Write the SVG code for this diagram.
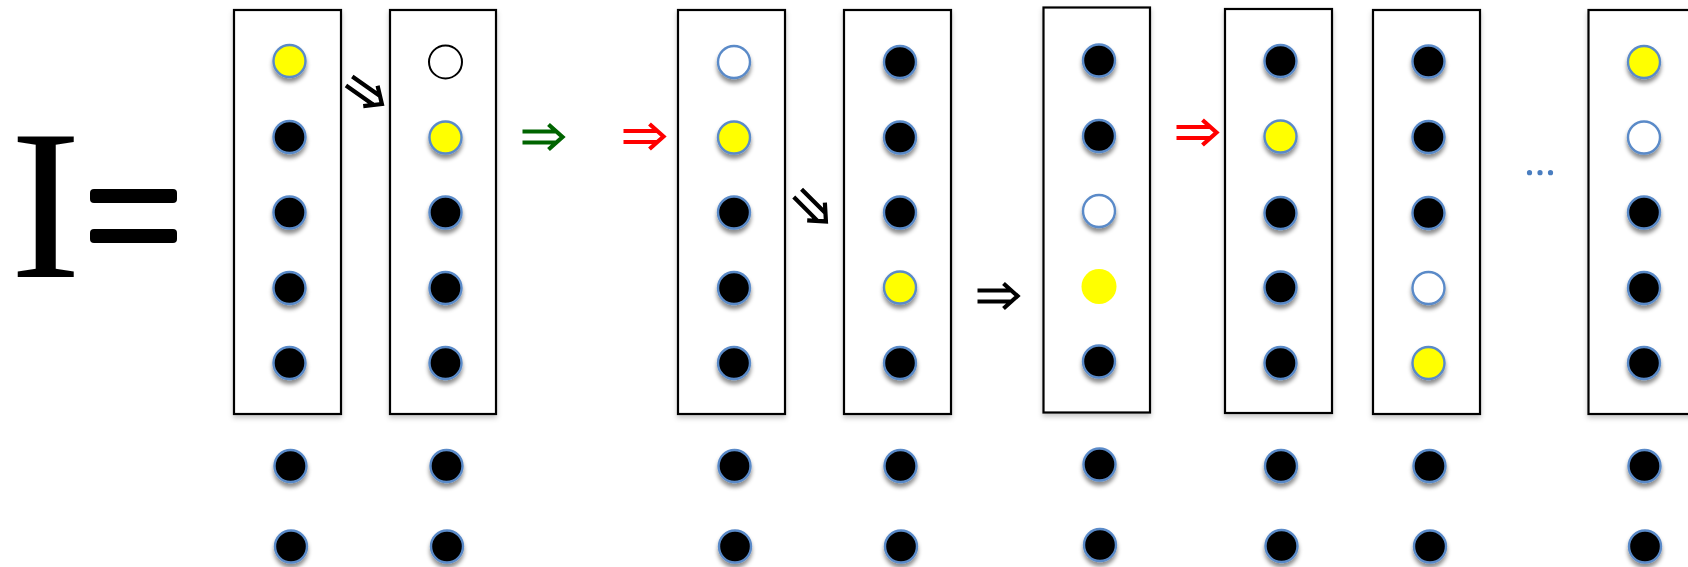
<svg xmlns="http://www.w3.org/2000/svg" xmlns:xlink="http://www.w3.org/1999/xlink" width="1688" height="567" viewBox="0 0 1688 567">
  <style>
    .box { fill: #ffffff; stroke: #000000; stroke-width: 2.2; filter: url(#boxShadow); }
    .dot { stroke: #5a8ac8; stroke-width: 2.4; filter: url(#dotShadow); }
    .on { fill: #ffff00; }
    .off { fill: #000000; }
    .hole { fill: #ffffff; }
    .ring { fill: #ffffff; stroke: #000000; stroke-width: 2; }
    .arrow { fill: none; stroke-width: 4.2; stroke-linecap: butt; stroke-linejoin: miter; }
    .title { font-family: "Liberation Serif", "Times New Roman", serif; fill: #000; }
  </style>
  <defs>
    <filter id="dotShadow" x="-50%" y="-50%" width="200%" height="220%">
      <feDropShadow dx="0" dy="4" stdDeviation="2.2" flood-color="#000" flood-opacity="0.45"/>
    </filter>
    <filter id="boxShadow" x="-10%" y="-5%" width="120%" height="110%">
      <feDropShadow dx="0" dy="3" stdDeviation="2.5" flood-color="#000" flood-opacity="0.22"/>
    </filter>
    <!-- double-line implication arrow, tail centred at origin, pointing +x -->
    <path id="dbl" d="M0,-5.5 H33 M0,5.5 H33 M26,-12.5 L40,0 L26,12.5"/>
  </defs>

  <!-- left-hand label -->
  <g id="label">
    <text class="title" x="10" y="277" font-size="214">I</text>
    <rect x="90" y="189" width="87" height="14" rx="4" fill="#000"/>
    <rect x="90" y="229" width="87" height="14" rx="4" fill="#000"/>
  </g>

  <!-- column 1 -->
  <g id="col1">
    <rect class="box" x="234" y="10" width="107" height="404"/>
    <circle class="dot on" cx="289.5" cy="61" r="16"/>
    <circle class="dot off" cx="289.5" cy="137" r="16"/>
    <circle class="dot off" cx="289.5" cy="212.5" r="16"/>
    <circle class="dot off" cx="289.5" cy="288" r="16"/>
    <circle class="dot off" cx="289.5" cy="363" r="16"/>
    <circle class="dot off" cx="290.5" cy="466" r="16"/>
    <circle class="dot off" cx="291" cy="546.5" r="16"/>
  </g>

  <!-- column 2 -->
  <g id="col2">
    <rect class="box" x="390" y="10" width="106" height="404"/>
    <circle class="ring" cx="445.5" cy="62" r="16.5"/>
    <circle class="dot on" cx="445.5" cy="137.5" r="16"/>
    <circle class="dot off" cx="445.5" cy="212.5" r="16"/>
    <circle class="dot off" cx="445.5" cy="288" r="16"/>
    <circle class="dot off" cx="445.5" cy="363" r="16"/>
    <circle class="dot off" cx="446.5" cy="466" r="16"/>
    <circle class="dot off" cx="447" cy="546.5" r="16"/>
  </g>

  <!-- column 3 -->
  <g id="col3">
    <rect class="box" x="678" y="10" width="107" height="404"/>
    <circle class="dot hole" cx="734" cy="62" r="16"/>
    <circle class="dot on" cx="734" cy="137.5" r="16"/>
    <circle class="dot off" cx="734" cy="212.5" r="16"/>
    <circle class="dot off" cx="734" cy="288" r="16"/>
    <circle class="dot off" cx="734" cy="363" r="16"/>
    <circle class="dot off" cx="734.5" cy="466" r="16"/>
    <circle class="dot off" cx="735" cy="546.5" r="16"/>
  </g>

  <!-- column 4 -->
  <g id="col4">
    <rect class="box" x="844" y="10" width="107" height="404"/>
    <circle class="dot off" cx="900" cy="62" r="16"/>
    <circle class="dot off" cx="900" cy="137.5" r="16"/>
    <circle class="dot off" cx="900" cy="212.5" r="16"/>
    <circle class="dot on" cx="900" cy="287.5" r="16"/>
    <circle class="dot off" cx="900" cy="363" r="16"/>
    <circle class="dot off" cx="900.5" cy="466" r="16"/>
    <circle class="dot off" cx="901" cy="546.5" r="16"/>
  </g>

  <!-- column 5 -->
  <g id="col5">
    <rect class="box" x="1043.5" y="7.5" width="106.5" height="405"/>
    <circle class="dot off" cx="1099" cy="60.5" r="16"/>
    <circle class="dot off" cx="1099" cy="136" r="16"/>
    <circle class="dot hole" cx="1099" cy="211" r="16"/>
    <circle class="on" cx="1099" cy="286.5" r="17.5"/>
    <circle class="dot off" cx="1099" cy="361.5" r="16"/>
    <circle class="dot off" cx="1099.5" cy="464.5" r="16"/>
    <circle class="dot off" cx="1100" cy="545" r="16"/>
  </g>

  <!-- column 6 -->
  <g id="col6">
    <rect class="box" x="1225" y="9" width="107" height="404"/>
    <circle class="dot off" cx="1280.5" cy="61" r="16"/>
    <circle class="dot on" cx="1280.5" cy="136.5" r="16"/>
    <circle class="dot off" cx="1280.5" cy="213" r="16"/>
    <circle class="dot off" cx="1280.5" cy="287.5" r="16"/>
    <circle class="dot off" cx="1280.5" cy="363" r="16"/>
    <circle class="dot off" cx="1281" cy="466" r="16"/>
    <circle class="dot off" cx="1281.5" cy="546" r="16"/>
  </g>

  <!-- column 7 -->
  <g id="col7">
    <rect class="box" x="1373" y="10" width="107" height="404"/>
    <circle class="dot off" cx="1428.5" cy="61.5" r="16"/>
    <circle class="dot off" cx="1428.5" cy="137" r="16"/>
    <circle class="dot off" cx="1428.5" cy="213" r="16"/>
    <circle class="dot hole" cx="1428.5" cy="288" r="16"/>
    <circle class="dot on" cx="1428.5" cy="363" r="16"/>
    <circle class="dot off" cx="1429.5" cy="466" r="16"/>
    <circle class="dot off" cx="1430" cy="546.5" r="16"/>
  </g>

  <!-- column 8 (runs off the right edge) -->
  <g id="col8">
    <rect class="box" x="1588.5" y="10" width="107" height="404"/>
    <circle class="dot on" cx="1644" cy="62" r="16"/>
    <circle class="dot hole" cx="1644" cy="137.5" r="16"/>
    <circle class="dot off" cx="1644" cy="212.5" r="16"/>
    <circle class="dot off" cx="1644" cy="288" r="16"/>
    <circle class="dot off" cx="1644" cy="363" r="16"/>
    <circle class="dot off" cx="1644.5" cy="466" r="16"/>
    <circle class="dot off" cx="1645" cy="546.5" r="16"/>
  </g>

  <!-- ellipsis between columns 7 and 8 -->
  <g id="ellipsis" fill="#4a7ec0">
    <circle cx="1529.5" cy="172.7" r="2.6"/>
    <circle cx="1540" cy="172.7" r="2.6"/>
    <circle cx="1550.5" cy="172.7" r="2.6"/>
  </g>

  <!-- transition arrows -->
  <g id="connectors" class="arrow">
    <use xlink:href="#dbl" stroke="#000" transform="translate(365.5,92.5) rotate(35) translate(-20,0)"/>
    <use xlink:href="#dbl" stroke="#006400" transform="translate(522.5,137)"/>
    <use xlink:href="#dbl" stroke="#ff0000" transform="translate(623.5,136.5)"/>
    <use xlink:href="#dbl" stroke="#000" transform="translate(812.5,208) rotate(45) translate(-21,0)"/>
    <use xlink:href="#dbl" stroke="#000" transform="translate(977.5,296)"/>
    <use xlink:href="#dbl" stroke="#ff0000" transform="translate(1176.5,132.5)"/>
  </g>
</svg>
